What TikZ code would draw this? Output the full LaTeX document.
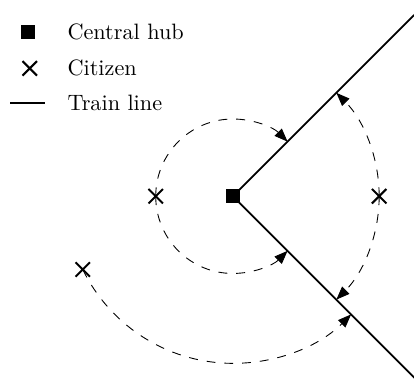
\documentclass[tikz,border=0pt]{standalone}
\usepackage{tikz}
\usetikzlibrary{arrows.meta,shapes.misc,positioning}
\tikzset{
  hub/.style={fill=black,minimum size=6.3pt,inner sep=0pt},
  citizen/.style={cross out,draw=black,line width=0.9pt,minimum size=5.6pt,inner sep=0pt},
  trainline/.style={line width=0.8pt},
  trip/.style={dash pattern=on 4pt off 4pt,-{Triangle[length=6pt,width=4.6pt]}},
  legendtext/.style={anchor=west,inner sep=0pt}
}
\begin{document}
\begin{tikzpicture}
\def\rone{1.22}
\def\rtwo{2.31}
\def\rthree{2.64}
\useasboundingbox (-3.68,-2.88) rectangle (2.86,3.10);

%train lines out of the hub
\coordinate (ne) at (45:4.05);
\coordinate (se) at (-45:4.07);
\node[hub] (hub) at (0,0) {};
\draw[trainline] (hub.center) -- (ne);
\draw[trainline] (hub.center) -- (se);

%citizens
\node[citizen] (west) at (180:\rone) {};
\node[citizen] (east) at (0:\rtwo) {};
\node[citizen] (far) at (206:\rthree) {};

%trips to the nearest point of a line
\draw[trip] (west.center) arc[start angle=180,end angle=45,radius=\rone];
\draw[trip] (west.center) arc[start angle=180,end angle=315,radius=\rone];
\draw[trip] (east.center) arc[start angle=0,end angle=45,radius=\rtwo];
\draw[trip] (east.center) arc[start angle=0,end angle=-45,radius=\rtwo];
\draw[trip] (far.center) arc[start angle=206,end angle=315,radius=\rthree];

%legend
\node[hub] (lhub) at (-3.24,2.59) {};
\node[legendtext] (thub) at (-2.62,2.59) {Central hub};
\node[citizen] (lcit) at (-3.21,2.02) {};
\node[legendtext] (tcit) at (-2.62,2.02) {Citizen};
\coordinate (la) at (-3.52,1.47);
\coordinate (lb) at (-2.97,1.47);
\draw[trainline] (la) -- (lb);
\node[legendtext] (tline) at (-2.62,1.47) {Train line};
\end{tikzpicture}
\end{document}
